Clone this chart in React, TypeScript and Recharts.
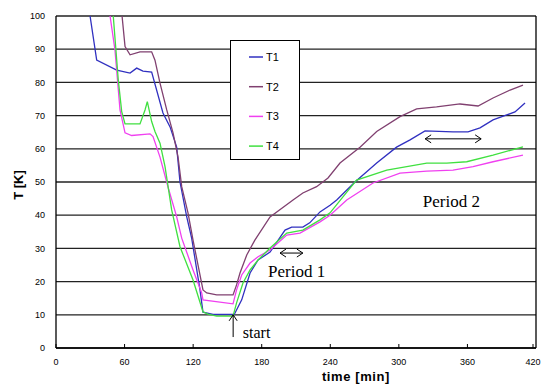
import React from 'react';
import { LineChart, Line, XAxis, YAxis, CartesianGrid, ReferenceLine, ReferenceDot } from 'recharts';

// [time min, T K]
const t1: [number, number][] = [
  [29.8, 100], [35.6, 86.7], [53.1, 83.7], [64.8, 82.8], [70.6, 84.3], [76.1, 83.4], [83.7, 83.1],
  [93.6, 70.8], [99.8, 66.6], [105.6, 60.5], [108.5, 50], [114.4, 39.5], [118.7, 33.1], [126, 17.5],
  [128.6, 10.8], [137.4, 10.1], [156, 10.1], [162.5, 14.5], [169.8, 22.6], [176.8, 26.5], [187.3, 28.9],
  [200.4, 35.5], [206.2, 36.4], [216, 36.4], [222, 37.7], [231, 41], [239.8, 43], [245.6, 44.6],
  [261.6, 50], [280.6, 55.7], [298, 60.5], [309.8, 62.7], [322.9, 65.4], [347.4, 65.1], [360.5, 65.1],
  [371, 66.3], [382.4, 68.7], [394.4, 70.2], [401.6, 71.1], [410.4, 73.8],
];
const t2: [number, number][] = [
  [57.8, 100], [60.4, 90.8], [64.8, 88.3], [73.5, 89.2], [83.7, 89.2], [86.6, 86.7], [91, 79.8],
  [96.9, 71.7], [102.4, 64.8], [106.8, 57.5], [110, 48.6], [115.5, 40.7], [119.9, 32.5], [128.6, 17.5],
  [131.9, 16.6], [140.6, 16], [154.9, 16], [158, 19], [161, 22.6], [166.9, 28], [174, 32.5],
  [187.3, 39.5], [207.4, 44.6], [216, 46.7], [228, 48.6], [238, 51.2], [248.5, 55.7], [266, 60.5],
  [280.6, 65.2], [301, 69.7], [315.6, 72], [333, 72.6], [353.5, 73.5], [369.3, 72.9], [382.4, 75.3],
  [397.3, 77.7], [408.6, 79.2],
];
const t3: [number, number][] = [
  [47.3, 100], [51.6, 89.8], [56, 71.7], [60.4, 64.8], [66.2, 64], [82.3, 64.5], [84.9, 63.7],
  [91, 57.5], [98, 48.5], [105.6, 39.5], [110, 33.1], [119.9, 23.5], [127.5, 16.6], [128.6, 14.5],
  [154.9, 13.3], [158, 17.5], [162.5, 22], [169.8, 25.6], [176.8, 27.5], [187.3, 29.5], [201.9, 34],
  [213.5, 34.6], [231, 38], [239.8, 40], [254.4, 44.6], [277.4, 49.7], [301, 52.7], [324.4, 53.3],
  [347.4, 53.6], [364.9, 54.6], [382.4, 56.1], [408.6, 58.1],
];
const t4: [number, number][] = [
  [50.1, 100], [54.5, 80.7], [57.5, 71.2], [60.4, 67.5], [73.5, 67.5], [77.9, 71.7], [79.9, 74.2],
  [83.7, 68.2], [86.6, 65.2], [91, 61.7], [95.4, 54.6], [101.2, 41.6], [108.5, 30.5], [119.9, 20.5],
  [128.6, 10.9], [133, 10.2], [140.6, 9.6], [154.9, 9.6], [158, 13.6], [163.6, 19.6], [169.8, 23.5],
  [176.8, 26.5], [187.3, 30.1], [201.9, 34.6], [216, 35.5], [231, 38.6], [239.8, 40.7], [263, 50.6],
  [289.4, 53.6], [324.4, 55.7], [341.9, 55.7], [359.4, 56.1], [382.4, 58.1], [408.6, 60.6],
];

const seriesNames = ['T1', 'T2', 'T3', 'T4'];
const seriesColors = ['#3030c0', '#804070', '#f040f0', '#40e040'];
const seriesValues = [t1, t2, t3, t4];

const timeTicks = [0, 60, 120, 180, 240, 300, 360, 420];
const tempTicks = [0, 10, 20, 30, 40, 50, 60, 70, 80, 90, 100];

const toPoints = (s: [number, number][]) => s.map(([time, temp]) => ({ time, temp }));

const TimeTick = ({ x, y, payload }: any) => (
  <g>
    <line x1={x} y1={y - 4} x2={x} y2={y} stroke="#000" />
    <text x={x} y={y + 17} textAnchor="middle" fontSize={9} fontFamily="Arial" fill="#000">
      {payload.value}
    </text>
  </g>
);

const makeArrow = (both: boolean) => (p: any) => {
  const { x1, y1, x2, y2 } = p;
  const len = Math.hypot(x2 - x1, y2 - y1) || 1;
  const ux = (x2 - x1) / len;
  const uy = (y2 - y1) / len;
  const head = (hx: number, hy: number, dx: number, dy: number) => {
    const s = 6;
    const w = 4;
    return (
      <polyline
        points={`${hx - dx * s - dy * w},${hy - dy * s + dx * w} ${hx},${hy} ${hx - dx * s + dy * w},${hy - dy * s - dx * w}`}
        fill="none"
        stroke="#000"
        strokeWidth={1}
      />
    );
  };
  return (
    <g>
      <line x1={x1} y1={y1} x2={x2} y2={y2} stroke="#000" strokeWidth={1} />
      {head(x2, y2, ux, uy)}
      {both && head(x1, y1, -ux, -uy)}
    </g>
  );
};

const makeNote = (text: string, size: number) => (p: any) => (
  <text x={p.cx} y={p.cy} fontSize={size} fontFamily="'Liberation Serif', 'Times New Roman', serif" fill="#000">
    {text}
  </text>
);

const LegendBox = () => (
  <div
    style={{
      position: 'absolute', left: 230, top: 40, width: 68, height: 118,
      border: '1px solid #000', background: '#fff',
    }}
  >
    <svg width={68} height={118}>
      {seriesNames.map((name, i) => (
        <g key={name}>
          <line x1={18} x2={32} y1={16 + i * 29.7} y2={16 + i * 29.7} stroke={seriesColors[i]} strokeWidth={1.5} />
          <text x={35} y={20 + i * 29.7} fontSize={11} fontFamily="Arial" fill="#000">{name}</text>
        </g>
      ))}
    </svg>
  </div>
);

export default function App() {
  return (
    <div style={{ position: 'absolute', left: 0, top: 0, width: 545, height: 385, background: '#fff' }}>
      <LineChart width={545} height={385} margin={{ top: 16, right: 9, bottom: 17, left: 0 }}>
        <CartesianGrid vertical={false} stroke="#222" strokeWidth={1.3} />
        <XAxis
          dataKey="time"
          type="number"
          domain={[0, 420]}
          ticks={timeTicks}
          height={20}
          tickSize={0}
          tickMargin={0}
          tickLine={false}
          tick={<TimeTick />}
          axisLine={{ stroke: '#000', strokeWidth: 1.3 }}
          allowDataOverflow
        />
        <YAxis
          type="number"
          domain={[0, 100]}
          ticks={tempTicks}
          width={56}
          tickSize={0}
          tickMargin={11}
          tickLine={false}
          tick={{ fontSize: 9, fontFamily: 'Arial', fill: '#000' }}
          axisLine={{ stroke: '#000', strokeWidth: 1.3 }}
          allowDataOverflow
        />
        <ReferenceLine x={420} stroke="#000" strokeWidth={1.3} />
        {seriesValues.map((s, i) => (
          <Line
            key={seriesNames[i]}
            data={toPoints(s)}
            dataKey="temp"
            name={seriesNames[i]}
            type="linear"
            stroke={seriesColors[i]}
            strokeWidth={1.3}
            dot={false}
            isAnimationActive={false}
          />
        ))}
        <ReferenceLine segment={[{ x: 155, y: 3.3 }, { x: 155, y: 10 }]} shape={makeArrow(false)} />
        <ReferenceLine segment={[{ x: 196, y: 28.6 }, { x: 216, y: 28.6 }]} shape={makeArrow(true)} />
        <ReferenceLine segment={[{ x: 323, y: 63 }, { x: 372, y: 63 }]} shape={makeArrow(true)} />
        <ReferenceDot x={163.5} y={3} r={0} shape={makeNote('start', 16)} />
        <ReferenceDot x={185.5} y={21.4} r={0} shape={makeNote('Period 1', 17)} />
        <ReferenceDot x={321} y={42.5} r={0} shape={makeNote('Period 2', 17)} />
      </LineChart>
      <LegendBox />
      <div
        style={{
          position: 'absolute', left: 18, top: 185, transform: 'translate(-50%, -50%) rotate(-90deg)',
          fontFamily: 'Arial', fontWeight: 'bold', fontSize: 13, whiteSpace: 'nowrap',
        }}
      >
        T [K]
      </div>
      <div
        style={{
          position: 'absolute', left: 356, top: 376, transform: 'translate(-50%, -50%)',
          fontFamily: 'Arial', fontWeight: 'bold', fontSize: 13, letterSpacing: 0.6, whiteSpace: 'nowrap',
        }}
      >
        time [min]
      </div>
    </div>
  );
}
